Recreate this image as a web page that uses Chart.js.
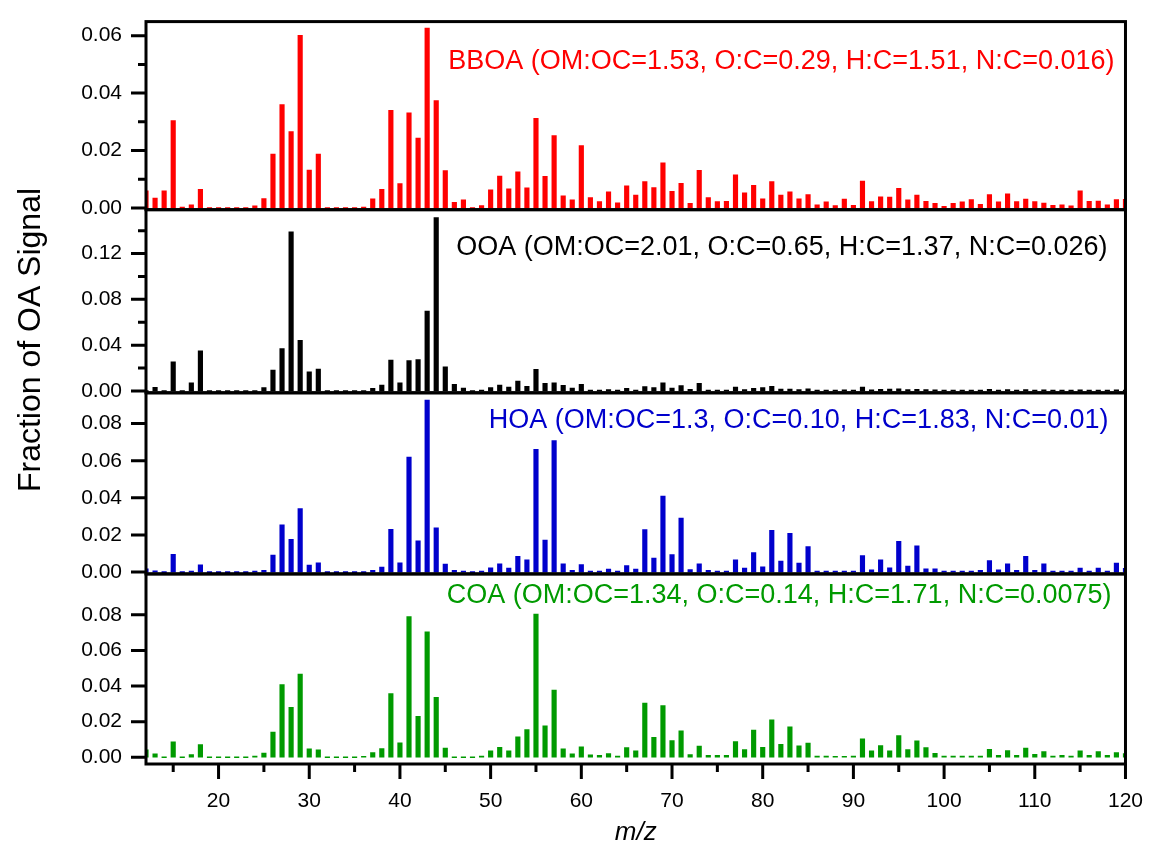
<!DOCTYPE html>
<html>
<head>
<meta charset="utf-8">
<script src="https://cdn.jsdelivr.net/npm/chart.js@4.4.0/dist/chart.umd.min.js"></script>
<style>
    html, body { margin: 0; padding: 0; background: #fff; }
    #chartContainer { position: relative; width: 1153px; height: 843px; }
</style>
</head>
<body>
<div id="chartContainer">
    <canvas id="msChart"></canvas>
</div>

<script>
    // m/z channels shown on the shared x axis
    const mzValues = [
        12, 13, 14, 15, 16, 17, 18, 19, 20, 21, 22, 23, 24, 25, 26, 27, 28, 29, 30, 31,
        32, 33, 34, 35, 36, 37, 38, 39, 40, 41, 42, 43, 44, 45, 46, 47, 48, 49, 50, 51,
        52, 53, 54, 55, 56, 57, 58, 59, 60, 61, 62, 63, 64, 65, 66, 67, 68, 69, 70, 71,
        72, 73, 74, 75, 76, 77, 78, 79, 80, 81, 82, 83, 84, 85, 86, 87, 88, 89, 90, 91,
        92, 93, 94, 95, 96, 97, 98, 99, 100, 101, 102, 103, 104, 105, 106, 107, 108, 109, 110, 111,
        112, 113, 114, 115, 116, 117, 118, 119, 120
    ];

    // factor mass spectra (fraction of OA signal), one value per m/z above
    const bboaValues = [
        0.006, 0.0034, 0.006, 0.0304, 0.0002, 0.0011, 0.0065, 0, 0, 0, 0, 0, 0.0007, 0.0033, 0.0188, 0.036, 0.0266, 0.0601, 0.0132, 0.0188,
        0, 0, 0, 0, 0.0002, 0.0032, 0.0065, 0.034, 0.0085, 0.0331, 0.0243, 0.0626, 0.0374, 0.013, 0.002, 0.0028, 0, 0.0008, 0.0063, 0.0111,
        0.0067, 0.0126, 0.007, 0.0312, 0.011, 0.0252, 0.0042, 0.0028, 0.0217, 0.0036, 0.0022, 0.0056, 0.0018, 0.0077, 0.0045, 0.0092, 0.0071, 0.0157, 0.0058, 0.0086,
        0.0016, 0.0131, 0.0036, 0.0022, 0.0023, 0.0115, 0.0053, 0.0079, 0.0032, 0.0092, 0.0045, 0.0056, 0.0032, 0.0047, 0.0011, 0.0021, 0.0008, 0.0031, 0.0009, 0.0094,
        0.0022, 0.0039, 0.0038, 0.0068, 0.0028, 0.0045, 0.0023, 0.0016, 0.0006, 0.0016, 0.0021, 0.0029, 0.0013, 0.0047, 0.0021, 0.0049, 0.0022, 0.0031, 0.0022, 0.0017,
        0.0009, 0.0011, 0.0007, 0.006, 0.0023, 0.0024, 0.0011, 0.0029, 0.003
    ];
    const ooaValues = [
        0, 0.0032, 0, 0.0254, 0, 0.0072, 0.035, 0, 0, 0, 0, 0, 0, 0.0029, 0.0182, 0.037, 0.139, 0.0442, 0.0168, 0.0191,
        0, 0, 0, 0, 0, 0.0023, 0.0052, 0.0269, 0.0072, 0.0266, 0.0275, 0.0697, 0.1514, 0.0211, 0.0058, 0.0026, 0, 0.0008, 0.003, 0.0052,
        0.0035, 0.0087, 0.004, 0.019, 0.0067, 0.007, 0.005, 0.0026, 0.0058, 0.0008, 0.0006, 0.0012, 0.0004, 0.0023, 0.0008, 0.0038, 0.0029, 0.0072, 0.0026, 0.0046,
        0.0014, 0.0067, 0.0008, 0.0006, 0.0006, 0.0035, 0.0012, 0.0023, 0.0029, 0.004, 0.0016, 0.0016, 0.0012, 0.0018, 0.0008, 0.0008, 0.0005, 0.0009, 0.0005, 0.0034,
        0.001, 0.0015, 0.0017, 0.0018, 0.0013, 0.0015, 0.0013, 0.0009, 0.0005, 0.0005, 0.0005, 0.0006, 0.0005, 0.0015, 0.0007, 0.0013, 0.0007, 0.0013, 0.0006, 0.0011,
        0.0005, 0.0005, 0.0004, 0.0011, 0.0005, 0.0007, 0.0005, 0.0009, 0.0006
    ];
    const hoaValues = [
        0.0018, 0.0007, 0, 0.0096, 0, 0.0004, 0.0039, 0, 0, 0, 0, 0, 0.0001, 0.0009, 0.0092, 0.0254, 0.0176, 0.0342, 0.0037, 0.005,
        0, 0, 0, 0, 0, 0.0009, 0.0027, 0.023, 0.005, 0.062, 0.0168, 0.0927, 0.0239, 0.0043, 0.0009, 0.0004, 0, 0.0002, 0.0023, 0.0044,
        0.0021, 0.0085, 0.0066, 0.0661, 0.0172, 0.0709, 0.0044, 0.0009, 0.0041, 0.0004, 0.0004, 0.0016, 0.0002, 0.0035, 0.0016, 0.0229, 0.0076, 0.041, 0.0094, 0.0291,
        0.0014, 0.0044, 0.0009, 0.0004, 0.0004, 0.0066, 0.0021, 0.0105, 0.0028, 0.0225, 0.0059, 0.0209, 0.0048, 0.0138, 0.0005, 0.0002, 0.0002, 0.0005, 0.0002, 0.0089,
        0.0012, 0.0066, 0.0023, 0.0165, 0.0032, 0.0142, 0.0018, 0.0018, 0.0002, 0.0002, 0.0002, 0.0005, 0.0009, 0.0062, 0.0012, 0.0044, 0.0009, 0.0085, 0.0009, 0.0044,
        0.0004, 0.0004, 0.0002, 0.0021, 0.0004, 0.0021, 0.0004, 0.0048, 0.002
    ];
    const coaValues = [
        0.0041, 0.0019, 0, 0.0086, 0, 0.0015, 0.0071, 0, 0, 0, 0, 0, 0.0007, 0.0024, 0.0142, 0.0408, 0.0281, 0.0467, 0.0047, 0.0041,
        0, 0, 0, 0, 0.0005, 0.0026, 0.0049, 0.0358, 0.0081, 0.0791, 0.023, 0.0705, 0.0337, 0.0052, 0, 0, 0, 0.0007, 0.0036, 0.0056,
        0.0036, 0.0114, 0.0156, 0.0804, 0.0176, 0.0378, 0.0047, 0.0019, 0.0058, 0.0013, 0.0011, 0.0021, 0.0007, 0.0054, 0.0036, 0.0304, 0.0112, 0.029, 0.0094, 0.0148,
        0.0015, 0.0062, 0.0011, 0.0011, 0.0011, 0.0088, 0.0043, 0.0152, 0.0056, 0.021, 0.0073, 0.0171, 0.0064, 0.0079, 0.0007, 0.0007, 0.0004, 0.0004, 0.0006, 0.0103,
        0.0036, 0.0066, 0.0036, 0.0122, 0.0043, 0.0092, 0.0054, 0.0022, 0.0006, 0.0006, 0.0006, 0.0006, 0.0007, 0.0045, 0.0011, 0.0037, 0.0011, 0.0051, 0.0017, 0.0032,
        0.0007, 0.0011, 0.0007, 0.0036, 0.0011, 0.0032, 0.0011, 0.0026, 0.002
    ];

    const factorLabels = [
        'BBOA (OM:OC=1.53, O:C=0.29, H:C=1.51, N:C=0.016)',
        'OOA (OM:OC=2.01, O:C=0.65, H:C=1.37, N:C=0.026)',
        'HOA (OM:OC=1.3, O:C=0.10, H:C=1.83, N:C=0.01)',
        'COA (OM:OC=1.34, O:C=0.14, H:C=1.71, N:C=0.0075)'
    ];

    const xTickValues = [20, 30, 40, 50, 60, 70, 80, 90, 100, 110, 120];
    const xMinorValues = [15, 25, 35, 45, 55, 65, 75, 85, 95, 105, 115];

    const FONT = "'Liberation Sans', Arial, Helvetica, sans-serif";
    Chart.defaults.font.family = FONT;
    Chart.defaults.color = '#000';

    // one panel per factor, top to bottom; labelX/labelY place the factor text inside its frame
    const panels = [
        { key: 'BBOA', label: factorLabels[0], values: bboaValues, color: '#ff0000',
          min: -0.0006, max: 0.0649, ticks: [0, 0.02, 0.04, 0.06], minor: [0.01, 0.03, 0.05],
          weight: 189, labelX: 11, labelY: 47 },
        { key: 'OOA', label: factorLabels[1], values: ooaValues, color: '#000000',
          min: -0.0016, max: 0.1583, ticks: [0, 0.04, 0.08, 0.12], minor: [0.02, 0.06, 0.10, 0.14],
          weight: 184, labelX: 18, labelY: 45 },
        { key: 'HOA', label: factorLabels[2], values: hoaValues, color: '#0000cc',
          min: -0.001, max: 0.0966, ticks: [0, 0.02, 0.04, 0.06, 0.08], minor: [],
          weight: 182, labelX: 17, labelY: 35 },
        { key: 'COA', label: factorLabels[3], values: coaValues, color: '#009a00',
          min: -0.0038, max: 0.103, ticks: [0, 0.02, 0.04, 0.06, 0.08], minor: [],
          weight: 191, labelX: 14, labelY: 29 }
    ];

    // frames, tick marks, factor labels and the shared y title
    const panelDecor = {
        id: 'panelDecor',
        afterDatasetsDraw(chart) {
            const ctx = chart.ctx;
            const area = chart.chartArea;
            const xScale = chart.scales.x;
            ctx.save();
            ctx.strokeStyle = '#000';
            ctx.lineWidth = 3;

            panels.forEach(p => {
                const s = chart.scales['y' + p.key];
                ctx.strokeRect(area.left, s.top, area.right - area.left, s.bottom - s.top);

                ctx.beginPath();
                p.ticks.forEach(v => {
                    const y = s.getPixelForValue(v);
                    ctx.moveTo(area.left - 15, y);
                    ctx.lineTo(area.left, y);
                });
                p.minor.forEach(v => {
                    const y = s.getPixelForValue(v);
                    ctx.moveTo(area.left - 8, y);
                    ctx.lineTo(area.left, y);
                });
                ctx.stroke();

                ctx.font = '27px ' + FONT;
                ctx.fillStyle = p.color;
                ctx.textAlign = 'right';
                ctx.textBaseline = 'alphabetic';
                ctx.fillText(p.label, area.right - p.labelX, s.top + p.labelY);
            });

            // m/z ticks below the bottom panel
            ctx.beginPath();
            xTickValues.forEach(v => {
                const x = xScale.getPixelForValue(v);
                ctx.moveTo(x, area.bottom);
                ctx.lineTo(x, area.bottom + 15);
            });
            xMinorValues.forEach(v => {
                const x = xScale.getPixelForValue(v);
                ctx.moveTo(x, area.bottom);
                ctx.lineTo(x, area.bottom + 8);
            });
            ctx.stroke();

            // y title shared by all panels
            ctx.translate(31, 340);
            ctx.rotate(-Math.PI / 2);
            ctx.font = '32px ' + FONT;
            ctx.fillStyle = '#000';
            ctx.textAlign = 'center';
            ctx.textBaseline = 'middle';
            ctx.fillText('Fraction of OA Signal', 0, 0);
            ctx.restore();
        }
    };

    const scales = {
        x: {
            type: 'linear',
            position: 'bottom',
            min: 12,
            max: 120,
            offset: false,
            grid: { display: false, drawTicks: true, tickLength: 15 },
            border: { display: false },
            afterBuildTicks: scale => { scale.ticks = xTickValues.map(v => ({ value: v })); },
            afterFit: scale => { scale.height = 79; },
            ticks: { font: { size: 21 }, padding: 10, maxRotation: 0, autoSkip: false },
            title: {
                display: true,
                text: 'm/z',
                font: { size: 26, style: 'italic', lineHeight: 1 },
                padding: { top: 0, bottom: -3 }
            }
        }
    };

    // stacked left axes are placed top-down in reverse order, so add the bottom panel first
    panels.slice().reverse().forEach(p => {
        scales['y' + p.key] = {
            type: 'linear',
            position: 'left',
            stack: 'factors',
            stackWeight: p.weight,
            min: p.min,
            max: p.max,
            grid: { display: false, drawTicks: true, tickLength: 15 },
            border: { display: false },
            afterBuildTicks: scale => { scale.ticks = p.ticks.map(v => ({ value: v })); },
            afterFit: scale => { scale.width = 146; },
            ticks: {
                font: { size: 21 },
                padding: 9,
                autoSkip: false,
                callback: v => v.toFixed(2)
            }
        };
    });

    const datasets = panels.map(p => ({
        label: p.key,
        yAxisID: 'y' + p.key,
        data: mzValues.map((m, i) => ({ x: m, y: p.values[i] })),
        backgroundColor: p.color,
        borderWidth: 0,
        barThickness: 4.5,
        minBarLength: 1,
        grouped: false
    }));

    const ctx = document.getElementById('msChart').getContext('2d');
    new Chart(ctx, {
        type: 'bar',
        data: { datasets: datasets },
        options: {
            responsive: true,
            maintainAspectRatio: false,
            animation: false,
            layout: { padding: { left: 0, right: 20, top: 18, bottom: 0 } },
            plugins: {
                legend: { display: false },
                tooltip: { enabled: false }
            },
            scales: scales
        },
        plugins: [panelDecor]
    });
</script>
</body>
</html>
